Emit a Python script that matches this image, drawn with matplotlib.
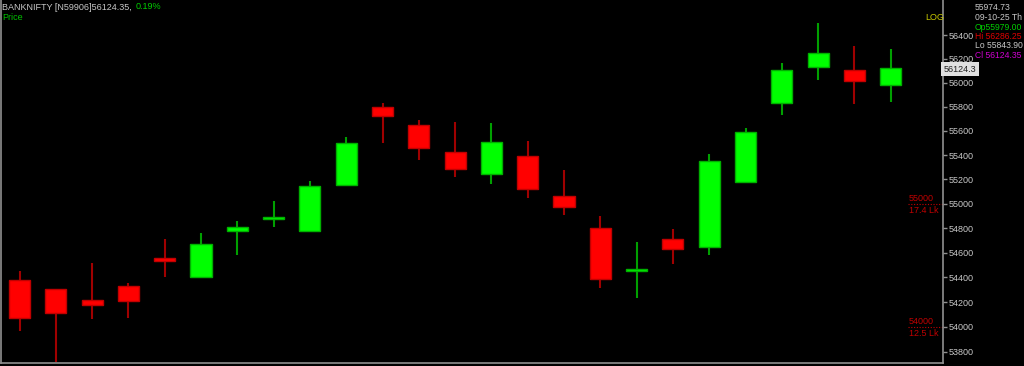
import matplotlib
matplotlib.use('Agg')
import matplotlib.pyplot as plt
import matplotlib.transforms as mtransforms
from matplotlib.ticker import FixedLocator, NullLocator
import numpy as np

plt.rcParams['font.family'] = ['Liberation Sans', 'DejaVu Sans']

# daily candles
opens = [54379, 54306, 54217, 54330, 54558, 54403, 54777, 54875, 54777, 55154,
         55798, 55649, 55426, 55244, 55393, 55064, 54802, 54455, 54712, 54647,
         55179, 55832, 56132, 56107, 55979.00]
highs = [54452, 54310, 54517, 54355, 54712, 54761, 54859, 55023, 55187, 55550,
         55832, 55690, 55674, 55666, 55517, 55277, 54900, 54688, 54793, 55409,
         55624, 56165, 56501, 56308, 56286.25]
lows = [53968, 53719, 54064, 54072, 54403, 54400, 54582, 54810, 54770, 55150,
        55500, 55360, 55220, 55162, 55048, 54908, 54314, 54233, 54509, 54582,
        55175, 55732, 56023, 55823, 55843.90]
closes = [54072, 54112, 54177, 54209, 54533, 54672, 54810, 54892, 55146, 55500,
          55724, 55459, 55286, 55508, 55121, 54974, 54387, 54465, 54631, 55351,
          55591, 56107, 56249, 56015, 56124.35]

ytick_vals = [53800, 54000, 54200, 54400, 54600, 54800, 55000, 55200,
              55400, 55600, 55800, 56000, 56200, 56400]
vol_levels = [55000, 54000]
vol_labels = ['17.4 Lk', '12.5 Lk']

W, H = 1024, 366
FS = 6.5
fig = plt.figure(figsize=(W / 100, H / 100), dpi=100, facecolor='black')
ax = fig.add_axes([1 / W, 3 / H, 942 / W, 363 / H])
ax.set_facecolor('black')

x = np.arange(len(opens))
o = np.array(opens)
c = np.array(closes)
up = c >= o

body_col = np.where(up, '#00ff00', '#ff0000')
edge_col = np.where(up, '#00b000', '#c00000')
wick_col = np.where(up, '#00a000', '#a00000')

ax.vlines(x, lows, highs, colors=wick_col, lw=1.5, zorder=1)
ax.bar(x, np.abs(c - o), bottom=np.minimum(o, c), width=0.58,
       color=body_col, edgecolor=edge_col, lw=1, zorder=2)

ax.set_yscale('log')
ax.set_ylim(53711, 56695)
ax.set_xlim(-0.51, 25.44)

ax.yaxis.tick_right()
ax.yaxis.set_major_locator(FixedLocator(ytick_vals))
ax.yaxis.set_minor_locator(NullLocator())
ax.set_yticklabels([str(v) for v in ytick_vals])
ax.tick_params(axis='y', colors='#909090', labelcolor='#c8c8c8', length=3,
               width=1, labelsize=FS, pad=1)
ax.set_xticks([])

for s in ['left', 'bottom', 'right']:
    ax.spines[s].set_color('#909090')
    ax.spines[s].set_linewidth(1.2)
ax.spines['top'].set_visible(False)

# last price box on the axis
trans = mtransforms.blended_transform_factory(ax.transAxes, ax.transData)
ax.text(1.001, closes[-1] * 0.9998, '56124.3', transform=trans, fontsize=FS,
        color='#202020', va='center', ha='left', clip_on=False,
        bbox=dict(boxstyle='square,pad=0.3', fc='#e0e0e0', ec='none'))

# volume level markers
for lv, lab in zip(vol_levels, vol_labels):
    ax.plot([908 / 943, 1.0], [lv, lv], transform=trans, color='#c00000',
            lw=0.8, ls=(0, (1, 1.5)), clip_on=False)
    ax.annotate(str(lv), xy=(909 / 943, lv), xycoords=trans,
                xytext=(0, 3.6), textcoords='offset points', fontsize=FS,
                color='#c00000', va='center', ha='left')
    ax.annotate(lab, xy=(909 / 943, lv), xycoords=trans,
                xytext=(0, -5.0), textcoords='offset points', fontsize=FS,
                color='#c00000', va='center', ha='left')


def fx(px):
    return px / W


def fy(py):
    return 1 - py / H


t1 = fig.text(fx(2), fy(7), 'BANKNIFTY [N59906]56124.35,', color='#c8c8c8',
              fontsize=FS, va='center', ha='left')
fig.text(fx(2), fy(18), 'Price', color='#00c000', fontsize=FS,
         va='center', ha='left')
fig.text(fx(925), fy(17), 'LOG', color='#c8c800', fontsize=FS,
         va='center', ha='left')

info = [('55974.73', '#c8c8c8', 7.3),
        ('09-10-25 Th', '#c8c8c8', 17.3),
        ('Op55979.00', '#00d000', 27.5),
        ('Hi 56286.25', '#e00000', 36.8),
        ('Lo 55843.90', '#c8c8c8', 46),
        ('Cl 56124.35', '#d000d0', 55)]
for txt, col, py in info:
    fig.text(fx(975), fy(py), txt, color=col, fontsize=6.2, va='center',
             ha='left')

fig.canvas.draw()
fig.text(0, 0, '0.19%', color='#00d000', fontsize=FS, va='center', ha='left',
         transform=mtransforms.offset_copy(
             fig.transFigure, fig=fig,
             x=t1.get_window_extent().x1 / 100 * 72 + 3,
             y=fy(7) * H / 100 * 72, units='points'))

fig.savefig('out.png', dpi=100, facecolor='black')
